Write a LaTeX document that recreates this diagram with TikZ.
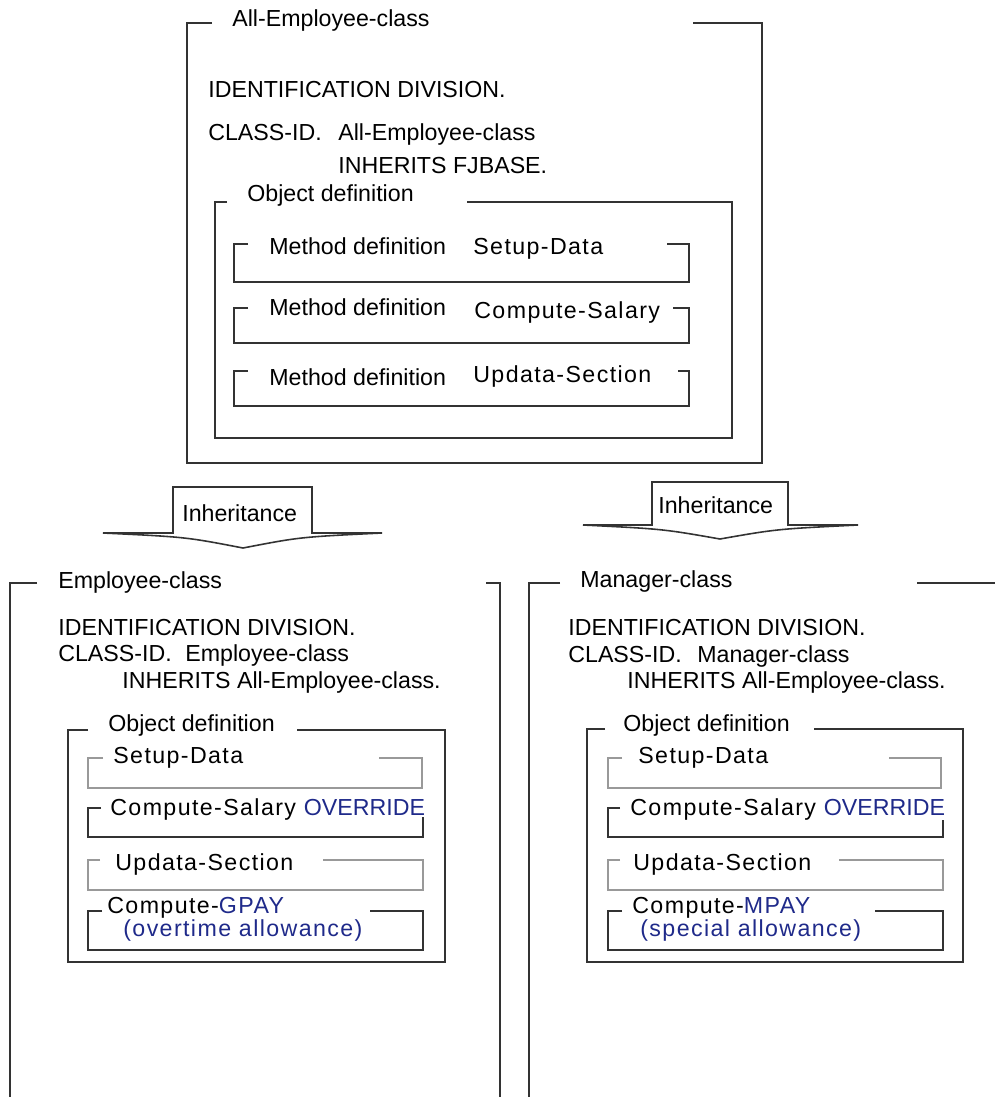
\documentclass[tikz,border=0pt]{standalone}
\usepackage{fontspec}
\setmainfont{Liberation Sans}
\newfontfamily\spacedfont{Liberation Sans}[LetterSpace=6]
\usepackage{xcolor}
\usepackage{tikz}
\usetikzlibrary{positioning}

\definecolor{kwblue}{HTML}{1F2A8A}
\newcommand\diagfont{\fontsize{13.2}{15}\selectfont}

\begin{document}
\begin{tikzpicture}[x=0.2mm,y=-0.2mm,
  every node/.style={inner sep=0pt,anchor=base west,font=\diagfont},
  frame/.style={draw=black!80,line width=0.9pt},
  faint/.style={draw=black!40,line width=0.9pt},
  meth/.style={font=\diagfont\spacedfont},
  kw/.style={text=kwblue}]
  \useasboundingbox (0,0) rectangle (995,1097);

  % base class
  \draw[frame] (212,23) -- (187,23) -- (187,463) -- (762,463) -- (762,23) -- (693,23);
  \node (aecTitle) at (232,27) {All-Employee-class};
  \node (aecIdent) at (208,98) {IDENTIFICATION DIVISION.};
  \node (aecClassId) at (208,140) {CLASS-ID.};
  \node (aecName) at (338,140) {All-Employee-class};
  \node (aecInherits) at (338,173) {INHERITS FJBASE.};
  \draw[frame] (227,202) -- (215,202) -- (215,438) -- (732,438) -- (732,202) -- (467,202);
  \node (aecObj) at (247,201) {Object definition};
  % three method definitions
  \draw[frame] (248,244) -- (234,244) -- (234,282) -- (689,282) -- (689,244) -- (667,244);
  \draw[frame] (248,308) -- (234,308) -- (234,343) -- (689,343) -- (689,308) -- (673,308);
  \draw[frame] (248,371) -- (234,371) -- (234,406) -- (689,406) -- (689,371) -- (678,371);
  \node (aecMeth1) at (269,254) {Method definition};
  \node[meth] (aecSetup) at (473,254) {Setup-Data};
  \node (aecMeth2) at (269,315) {Method definition};
  \node[meth] (aecSalary) at (474,318) {Compute-Salary};
  \node (aecMeth3) at (269,385) {Method definition};
  \node[meth] (aecSection) at (473,382) {Updata-Section};

  % inheritance arrows
  \draw[frame] (173,487) -- (312,487) -- (312,533) -- (382,533)
        .. controls (300,537) .. (243,548)
        .. controls (186,537) .. (103,533) -- (173,533) -- cycle;
  \node (inhLeft) at (182,521) {Inheritance};
  \draw[frame] (652,482) -- (788,482) -- (788,525) -- (858,525)
        .. controls (777,529) .. (720,539)
        .. controls (663,529) .. (583,525) -- (652,525) -- cycle;
  \node (inhRight) at (658,513) {Inheritance};

  % derived class: Employee-class
  \draw[frame] (37,583) -- (10,583) -- (10,1097);
  \draw[frame] (486,583) -- (500,583) -- (500,1097);
  \node (ecTitle) at (58,588) {Employee-class};
  \node (ecIdent) at (58,635) {IDENTIFICATION DIVISION.};
  \node (ecClassId) at (58,661) {CLASS-ID.};
  \node (ecName) at (185,661) {Employee-class};
  \node (ecInherits) at (122,688) {INHERITS All-Employee-class.};
  \draw[frame] (88,730) -- (68,730) -- (68,962) -- (445,962) -- (445,730) -- (297,730);
  \node (ecObj) at (108,731) {Object definition};
  \draw[faint] (103,758) -- (88,758) -- (88,788) -- (422,788) -- (422,758) -- (379,758);
  \node[meth] (ecSetup) at (113,763) {Setup-Data};
  \draw[frame] (101,808) -- (88,808) -- (88,837) -- (423,837) -- (423,817);
  \node[meth] (ecSalary) at (110,815) {Compute-Salary {\rmfamily\color{kwblue}OVERRIDE}};
  \draw[faint] (100,860) -- (88,860) -- (88,890) -- (423,890) -- (423,860) -- (323,860);
  \node[meth] (ecSection) at (115,870) {Updata-Section};
  \draw[frame] (102,911) -- (88,911) -- (88,950) -- (423,950) -- (423,911) -- (370,911);
  \node[meth] (ecGpay) at (107,913) {Compute-{\color{kwblue}GPAY}};
  \node[meth,kw] (ecOvertime) at (123,936) {(overtime allowance)};

  % derived class: Manager-class
  \draw[frame] (560,583) -- (529,583) -- (529,1097);
  \draw[frame] (917,583) -- (995,583);
  \node (mcTitle) at (580,587) {Manager-class};
  \node (mcIdent) at (568,635) {IDENTIFICATION DIVISION.};
  \node (mcClassId) at (568,662) {CLASS-ID.};
  \node (mcName) at (697,662) {Manager-class};
  \node (mcInherits) at (627,688) {INHERITS All-Employee-class.};
  \draw[frame] (605,729) -- (587,729) -- (587,962) -- (963,962) -- (963,729) -- (814,729);
  \node (mcObj) at (623,731) {Object definition};
  \draw[faint] (622,758) -- (608,758) -- (608,788) -- (941,788) -- (941,758) -- (889,758);
  \node[meth] (mcSetup) at (638,763) {Setup-Data};
  \draw[frame] (620,808) -- (608,808) -- (608,837) -- (943,837) -- (943,820);
  \node[meth] (mcSalary) at (630,815) {Compute-Salary {\rmfamily\color{kwblue}OVERRIDE}};
  \draw[faint] (620,860) -- (608,860) -- (608,890) -- (943,890) -- (943,860) -- (839,860);
  \node[meth] (mcSection) at (633,870) {Updata-Section};
  \draw[frame] (622,911) -- (608,911) -- (608,950) -- (943,950) -- (943,911) -- (875,911);
  \node[meth] (mcMpay) at (632,913) {Compute-{\color{kwblue}MPAY}};
  \node[meth,kw] (mcSpecial) at (640,936) {(special allowance)};
\end{tikzpicture}
\end{document}
